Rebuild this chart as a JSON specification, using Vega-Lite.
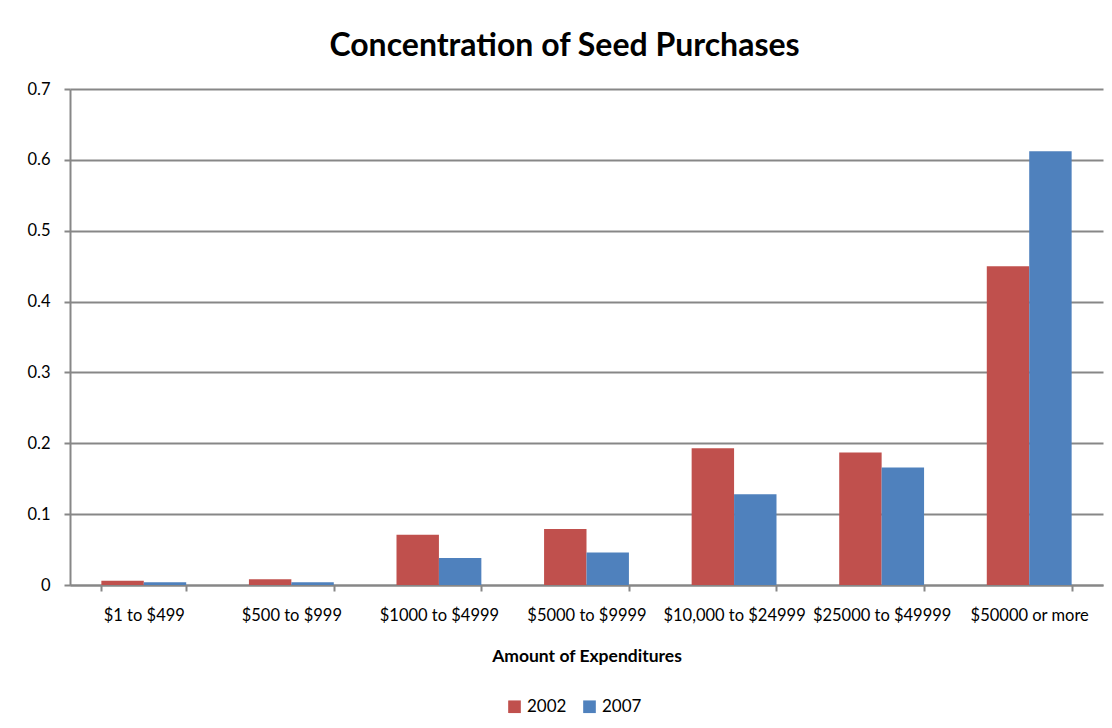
{
  "$schema": "https://vega.github.io/schema/vega-lite/v6.json",
  "width": 1033,
  "height": 496,
  "autosize": {"type": "none"},
  "padding": {"left": 70, "top": 89, "right": 9, "bottom": 143},
  "background": "white",
  "title": {
    "text": "Concentration of Seed Purchases",
    "font": "Lato",
    "fontSize": 32,
    "fontWeight": "bold",
    "color": "black",
    "anchor": "middle",
    "dx": -22,
    "offset": 18
  },
  "data": {
    "values": [
      {"range": "$1 to $499", "year": "2002", "value": 0.006},
      {"range": "$1 to $499", "year": "2007", "value": 0.004},
      {"range": "$500 to $999", "year": "2002", "value": 0.008},
      {"range": "$500 to $999", "year": "2007", "value": 0.004},
      {"range": "$1000 to $4999", "year": "2002", "value": 0.071},
      {"range": "$1000 to $4999", "year": "2007", "value": 0.038},
      {"range": "$5000 to $9999", "year": "2002", "value": 0.079},
      {"range": "$5000 to $9999", "year": "2007", "value": 0.046},
      {"range": "$10,000 to $24999", "year": "2002", "value": 0.193},
      {"range": "$10,000 to $24999", "year": "2007", "value": 0.128},
      {"range": "$25000 to $49999", "year": "2002", "value": 0.187},
      {"range": "$25000 to $49999", "year": "2007", "value": 0.166},
      {"range": "$50000 or more", "year": "2002", "value": 0.450},
      {"range": "$50000 or more", "year": "2007", "value": 0.612}
    ]
  },
  "mark": {"type": "bar"},
  "encoding": {
    "x": {
      "field": "range",
      "type": "nominal",
      "sort": null,
      "scale": {"paddingInner": 0.425, "paddingOuter": 0.2125},
      "axis": {
        "title": "Amount of Expenditures",
        "titleFont": "Lato",
        "titleFontSize": 17.5,
        "titleFontWeight": "bold",
        "titleColor": "black",
        "titlePadding": 24,
        "labelAngle": 0,
        "labelFont": "Lato",
        "labelFontSize": 16.5,
        "labelColor": "black",
        "labelPadding": 16,
        "tickBand": "extent",
        "tickSize": 6,
        "tickColor": "#878787",
        "tickWidth": 2,
        "domainColor": "#878787",
        "domainWidth": 2,
        "grid": false
      }
    },
    "xOffset": {"field": "year", "type": "nominal"},
    "y": {
      "field": "value",
      "type": "quantitative",
      "scale": {"domain": [0, 0.7], "nice": false},
      "axis": {
        "title": null,
        "values": [0, 0.1, 0.2, 0.3, 0.4, 0.5, 0.6, 0.7],
        "format": "~g",
        "labelFont": "Lato",
        "labelFontSize": 16.5,
        "labelColor": "black",
        "labelPadding": 14,
        "tickSize": 6,
        "tickColor": "#878787",
        "tickWidth": 2,
        "domainColor": "#878787",
        "domainWidth": 2,
        "grid": true,
        "gridColor": "#878787",
        "gridWidth": 2,
        "gridOpacity": 1
      }
    },
    "color": {
      "field": "year",
      "type": "nominal",
      "scale": {"domain": ["2002", "2007"], "range": ["#C0504D", "#4F81BD"]},
      "legend": {
        "title": null,
        "orient": "none",
        "direction": "horizontal",
        "legendX": 436,
        "legendY": 609,
        "symbolType": "square",
        "symbolSize": 160,
        "symbolStrokeWidth": 0,
        "labelFont": "Lato",
        "labelFontSize": 17,
        "labelColor": "black",
        "columnPadding": 14,
        "labelOffset": 4
      }
    }
  },
  "config": {
    "view": {"stroke": null}
  }
}
